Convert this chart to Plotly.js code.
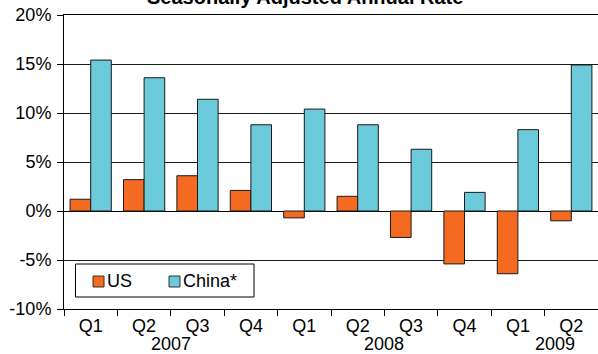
<!DOCTYPE html>
<html>
<head>
<meta charset="utf-8">
<script src="https://cdn.plot.ly/plotly-3.0.1.min.js"></script>
<style>html,body{margin:0;padding:0;background:#fff;}#chart{width:598px;height:354px;}</style>
</head>
<body>
<div id="chart"></div>
<script>
var categories = ["Q1 2007","Q2 2007","Q3 2007","Q4 2007","Q1 2008","Q2 2008","Q3 2008","Q4 2008","Q1 2009","Q2 2009"];
var quarterLabels = ["Q1","Q2","Q3","Q4","Q1","Q2","Q3","Q4","Q1","Q2"];
var usValues = [1.2, 3.2, 3.6, 2.1, -0.7, 1.5, -2.7, -5.4, -6.4, -1.0];
var chinaValues = [15.4, 13.6, 11.4, 8.8, 10.4, 8.8, 6.3, 1.9, 8.3, 14.9];
var yTickValues = [-10, -5, 0, 5, 10, 15, 20];
var yTickLabels = ["-10%", "-5%", "0%", "5%", "10%", "15%", "20%"];
var yearLabels = ["2007","2008","2009"];
var yearPositions = [1.5, 5.5, 8.7];
var seriesNames = ["US","China*"];
var titleText = "Seasonally Adjusted Annual Rate";

var FONT = "Liberation Sans, Arial, sans-serif";
var FS = 18;
var orange = "#F46A21";
var cyan = "#6CCBDA";

var traces = [
  {type:"bar", name:seriesNames[0], x:categories, y:usValues,
   marker:{color:orange, line:{color:"#1a1a1a", width:1}}},
  {type:"bar", name:seriesNames[1], x:categories, y:chinaValues,
   marker:{color:cyan, line:{color:"#1a1a1a", width:1}}}
];

var L = 64, T = 15, W = 534, H = 294;
function px(x){ return (x - L) / W; }
function py(y){ return (T + H - y) / H; }

var annotations = [];
for (var i = 0; i < yearLabels.length; i++) {
  annotations.push({xref:"x", yref:"paper", x:yearPositions[i], y:py(344), yanchor:"middle", xanchor:"center",
    text:yearLabels[i], showarrow:false, font:{family:FONT, size:FS, color:"#000"}});
}
annotations.push({xref:"paper", yref:"paper", x:px(305), y:py(-3.5), xanchor:"center", yanchor:"middle",
  text:"<b>"+titleText+"</b>", showarrow:false, font:{family:FONT, size:20, color:"#000"}});
annotations.push({xref:"paper", yref:"paper", x:px(105), y:py(281), xanchor:"left", yanchor:"middle",
  text:seriesNames[0], showarrow:false, font:{family:FONT, size:FS, color:"#000"}});
annotations.push({xref:"paper", yref:"paper", x:px(181), y:py(281), xanchor:"left", yanchor:"middle",
  text:seriesNames[1], showarrow:false, font:{family:FONT, size:FS, color:"#000"}});

var shapes = [
  {type:"rect", xref:"paper", yref:"paper", x0:px(75.5), x1:px(254), y0:py(297), y1:py(264),
   line:{color:"#000", width:1}, fillcolor:"#fff", layer:"above"},
  {type:"rect", xref:"paper", yref:"paper", x0:px(93), x1:px(104), y0:py(287), y1:py(276),
   line:{color:"#333", width:1}, fillcolor:orange, layer:"above"},
  {type:"rect", xref:"paper", yref:"paper", x0:px(169), x1:px(180), y0:py(287), y1:py(276),
   line:{color:"#333", width:1}, fillcolor:cyan, layer:"above"}
];

var layout = {
  width:598, height:354,
  margin:{l:L, r:0, t:T, b:354-T-H, pad:0},
  paper_bgcolor:"#fff", plot_bgcolor:"#fff",
  showlegend:false,
  barmode:"group", bargap:0.228, bargroupgap:0,
  font:{family:FONT, size:FS, color:"#000"},
  xaxis:{type:"category", tickmode:"array", tickvals:categories, ticktext:quarterLabels,
    tickson:"boundaries", ticks:"outside", ticklen:6, tickcolor:"#000", tickwidth:1,
    showline:true, linecolor:"#000", linewidth:1, mirror:true, showgrid:false,
    tickfont:{family:FONT, size:FS, color:"#000"}, fixedrange:true},
  yaxis:{range:[-10,20], tickmode:"array", tickvals:yTickValues, ticktext:yTickLabels,
    ticks:"outside", ticklen:6, tickcolor:"#000", ticklabelstandoff:2,
    showline:true, linecolor:"#000", linewidth:1, showgrid:true, gridcolor:"#1a1a1a", gridwidth:1,
    zeroline:true, zerolinecolor:"#000", zerolinewidth:1,
    tickfont:{family:FONT, size:FS, color:"#000"}, fixedrange:true},
  annotations:annotations,
  shapes:shapes
};

Plotly.newPlot("chart", traces, layout, {displayModeBar:false, staticPlot:true});
</script>
</body>
</html>
